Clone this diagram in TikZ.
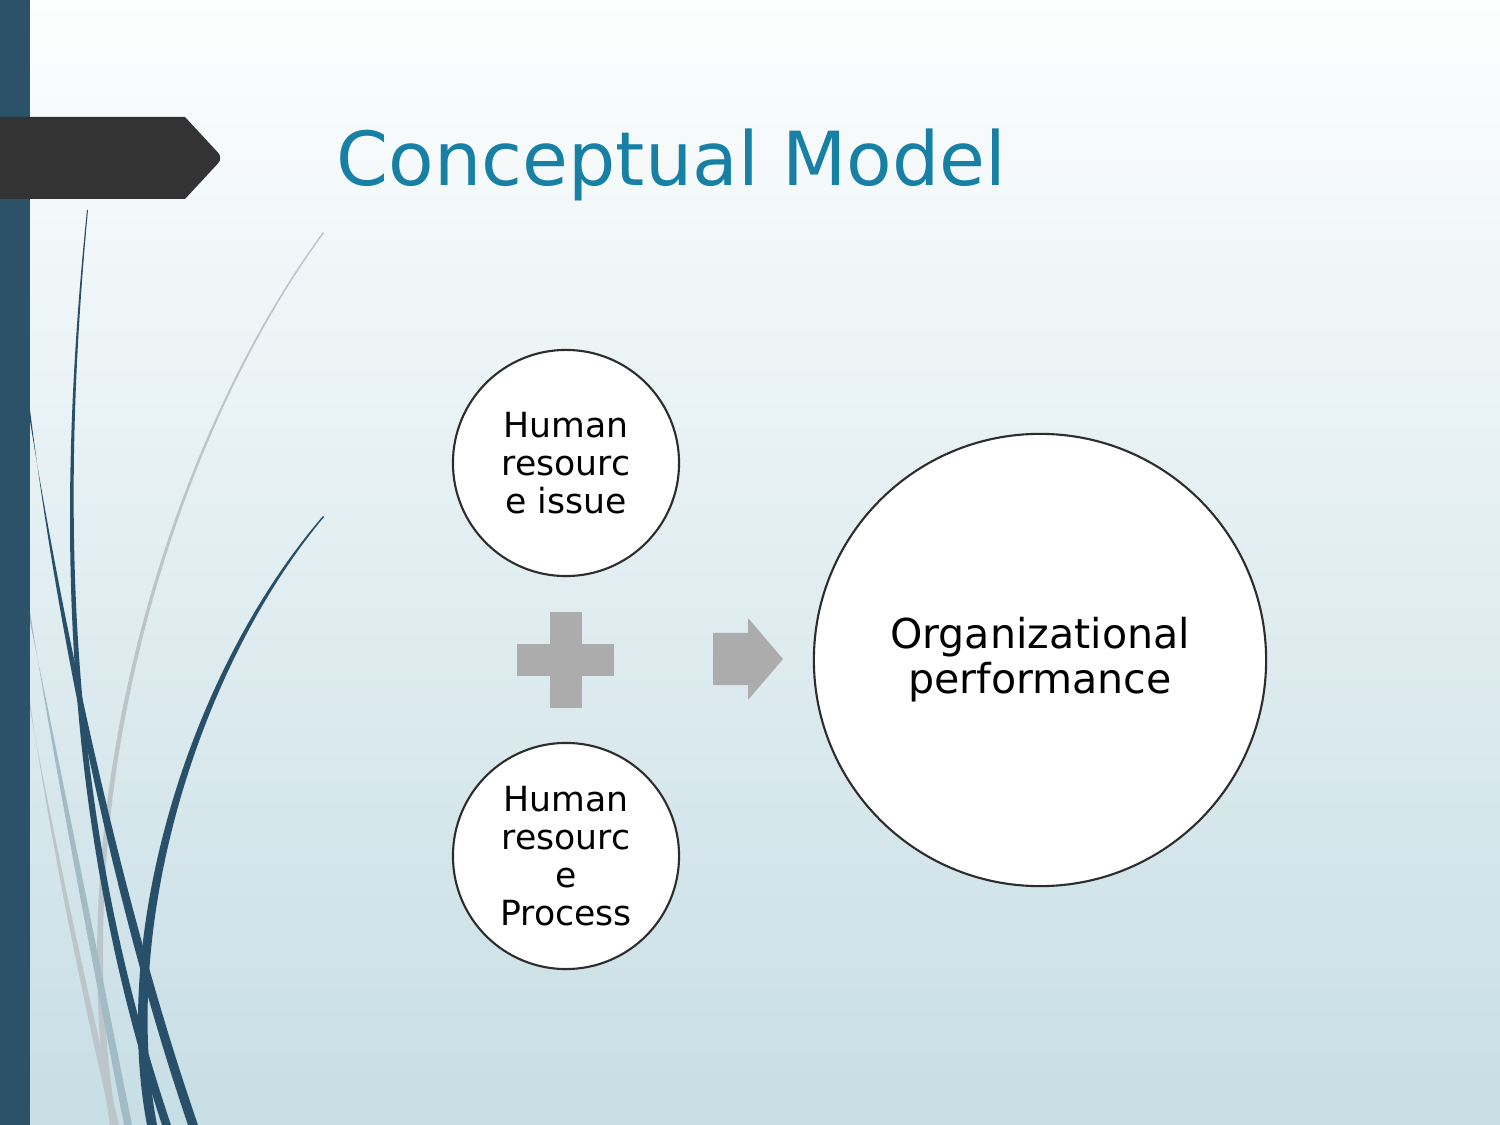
\documentclass[tikz,border=0pt]{standalone}
\usepackage{fontspec}
\setmainfont{DejaVu Sans}
\usepackage{tikz}
\usetikzlibrary{positioning}
\definecolor{bgtop}{RGB}{253,254,254}
\definecolor{bgbot}{RGB}{199,222,229}
\definecolor{stripe}{RGB}{44,82,105}
\definecolor{banner}{RGB}{51,51,51}
\definecolor{titleblue}{RGB}{24,128,164}
\definecolor{wave}{RGB}{40,80,106}
\definecolor{wavegray}{RGB}{188,198,202}
\definecolor{wavepale}{RGB}{162,188,198}
\definecolor{signgray}{RGB}{172,172,172}
\definecolor{rim}{RGB}{45,45,45}
\tikzset{
  bubble/.style={circle,draw=rim,line width=0.6pt,fill=white,inner sep=0pt,
    align=center,text=black},
  smallbubble/.style={bubble,minimum size=2.26cm,
    font=\fontsize{9.85}{10.8}\selectfont},
  bigbubble/.style={bubble,minimum size=4.52cm,
    font=\fontsize{11.7}{12.8}\selectfont},
  sign/.style={fill=signgray,draw=none},
  title/.style={anchor=base west,text=titleblue,inner sep=0pt,
    font=\fontsize{21.2}{25}\selectfont}
}

\begin{document}
\begin{tikzpicture}[x=0.01cm,y=-0.01cm]
\useasboundingbox (0,0) rectangle (1500,1125);
% background
\shade[top color=bgtop,bottom color=bgbot] (0,0) rectangle (1500,1125);
% swooshes on the left
\fill[wavegray] (323,232) .. controls (170,440) and (58,800) .. (110,1125)
  -- (117,1125) .. controls (63,800) and (172,441) .. (324,233) -- cycle;
\fill[wavepale] (30,612) .. controls (60,800) and (100,1000) .. (124,1125)
  -- (132,1125) .. controls (107,1000) and (67,800) .. (30,622) -- cycle;
\fill[wavegray] (30,702) .. controls (55,870) and (88,1020) .. (112,1125)
  -- (119,1125) .. controls (94,1020) and (60,870) .. (30,709) -- cycle;
\fill[wave] (87,210) .. controls (55,520) and (62,820) .. (162,1125)
  -- (171,1125) .. controls (68,820) and (59,520) .. (88,210) -- cycle;
\fill[wave] (30,410) .. controls (60,650) and (118,920) .. (188,1125)
  -- (198,1125) .. controls (127,920) and (67,650) .. (30,421) -- cycle;
\fill[wave] (323,516) .. controls (190,670) and (110,930) .. (147,1125)
  -- (157,1125) .. controls (120,930) and (195,672) .. (324,517) -- cycle;
% stripe and banner
\fill[stripe] (0,0) rectangle (30,1125);
\fill[banner] (0,117) -- (185,117) [rounded corners=2pt] -- (223,158)
  [sharp corners] -- (185,199) -- (0,199) -- cycle;
\node[title] (head) at (336,186) {Conceptual Model};

% model
\node[smallbubble] (issue) at (566,463) {Human\\resourc\\e issue};
\node[smallbubble] (process) at (566,856) {Human\\resourc\\e\\Process};
\node[bigbubble] (perf) at (1040,660) {Organizational\\performance};
\coordinate (plus) at (566,660);
\coordinate (arr) at (713,659);
\fill[sign] ([xshift=-0.49cm,yshift=0.155cm]plus) rectangle ([xshift=0.48cm,yshift=-0.155cm]plus);
\fill[sign] ([xshift=-0.155cm,yshift=0.48cm]plus) rectangle ([xshift=0.155cm,yshift=-0.48cm]plus);
\fill[sign] ([yshift=0.26cm]arr) -- ++(35,0) -- ++(0,-15) -- (783,659)
  -- (748,700) -- ++(0,-15) -- ([yshift=-0.26cm]arr) -- cycle;
\end{tikzpicture}
\end{document}
